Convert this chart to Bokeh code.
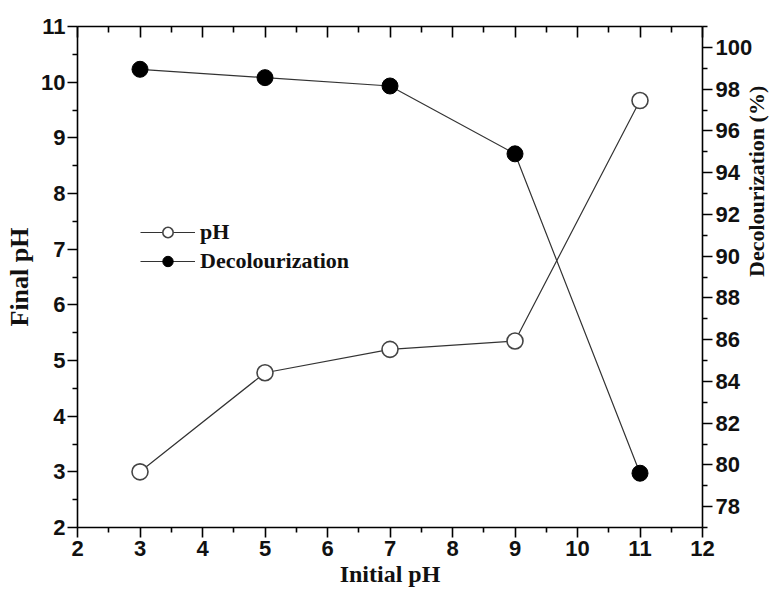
import math
from bokeh.plotting import figure
from bokeh.models import Range1d, LinearAxis, FixedTicker, Legend, LegendItem
from bokeh.embed import file_html
from bokeh.resources import INLINE

# ---- data ----
initial_ph = [3, 5, 7, 9, 11]
final_ph = [3.0, 4.78, 5.2, 5.35, 9.67]
decolourization = [98.95, 98.55, 98.15, 94.9, 79.6]

x_ticks = [2, 3, 4, 5, 6, 7, 8, 9, 10, 11, 12]
x_minor = [2.5, 3.5, 4.5, 5.5, 6.5, 7.5, 8.5, 9.5, 10.5, 11.5]
left_ticks = [2, 3, 4, 5, 6, 7, 8, 9, 10, 11]
left_minor = [2.5, 3.5, 4.5, 5.5, 6.5, 7.5, 8.5, 9.5, 10.5]
right_ticks = [78, 80, 82, 84, 86, 88, 90, 92, 94, 96, 98, 100]
right_minor = [77, 79, 81, 83, 85, 87, 89, 91, 93, 95, 97, 99, 101]

x_label = "Initial pH"
left_label = "Final pH"
right_label = "Decolourization (%)"
series_names = ["pH", "Decolourization"]

TICK_FONT = "Liberation Sans"
LABEL_FONT = "Liberation Serif"

p = figure(width=784, height=595, x_range=Range1d(2, 12), y_range=Range1d(2, 11),
           output_backend="svg", toolbar_location=None,
           min_border_left=77, min_border_right=79, min_border_top=26, min_border_bottom=68)
p.extra_y_ranges = {"dec": Range1d(77, 101)}
p.grid.visible = False
p.outline_line_color = None
p.background_fill_color = "white"
p.border_fill_color = "white"


def style_axis(ax, out_major=10, out_minor=5, in_major=0, in_minor=0):
    ax.axis_line_color = "black"
    ax.axis_line_width = 1.6
    ax.major_tick_line_color = "black"
    ax.major_tick_line_width = 1.6
    ax.minor_tick_line_color = "black"
    ax.minor_tick_line_width = 1.6
    ax.major_tick_out = out_major
    ax.major_tick_in = in_major
    ax.minor_tick_out = out_minor
    ax.minor_tick_in = in_minor
    ax.major_label_text_font = TICK_FONT
    ax.major_label_text_font_style = "bold"
    ax.major_label_text_font_size = "22px"
    ax.major_label_text_color = "#111111"
    ax.axis_label_text_font = LABEL_FONT
    ax.axis_label_text_font_style = "bold"
    ax.axis_label_text_color = "#111111"


xa = p.xaxis[0]
xa.ticker = FixedTicker(ticks=x_ticks, minor_ticks=x_minor)
style_axis(xa)
xa.major_label_standoff = 3
xa.axis_label = x_label
xa.axis_label_text_font_size = "24px"
xa.axis_label_standoff = 2

ya = p.yaxis[0]
ya.ticker = FixedTicker(ticks=left_ticks, minor_ticks=left_minor)
style_axis(ya)
ya.major_label_standoff = 2
ya.axis_label = left_label
ya.axis_label_text_font_size = "26px"
ya.axis_label_standoff = 4

ra = LinearAxis(y_range_name="dec", ticker=FixedTicker(ticks=right_ticks, minor_ticks=right_minor))
style_axis(ra)
ra.major_label_standoff = 3
ra.axis_label = right_label
ra.axis_label_text_font_size = "22px"
ra.axis_label_standoff = 1
if "axis_label_orientation" in ra.properties():
    ra.axis_label_orientation = math.pi / 2
p.add_layout(ra, "right")

ta = LinearAxis(ticker=FixedTicker(ticks=x_ticks, minor_ticks=x_minor))
style_axis(ta, out_major=0, out_minor=0, in_major=11, in_minor=6)
ta.major_label_text_font_size = "1px"
ta.major_label_text_color = None
ta.major_label_standoff = 0
p.add_layout(ta, "above")

# series: Final pH (open circles, left axis)
l1 = p.line(initial_ph, final_ph, line_color="#333333", line_width=1.2)
s1 = p.scatter(initial_ph, final_ph, marker="circle", size=16, fill_color="white",
               line_color="#444444", line_width=1.6)
# series: Decolourization (filled circles, right axis)
l2 = p.line(initial_ph, decolourization, line_color="#333333", line_width=1.2, y_range_name="dec")
s2 = p.scatter(initial_ph, decolourization, marker="circle", size=16, fill_color="black",
               line_color="black", line_width=1, y_range_name="dec")

legend = Legend(items=[LegendItem(label=series_names[0], renderers=[l1, s1]),
                       LegendItem(label=series_names[1], renderers=[l2, s2])],
                location=(63, 253), glyph_width=55, glyph_height=26, label_height=26,
                spacing=3, padding=0, margin=0, label_standoff=5,
                border_line_color=None, background_fill_alpha=0,
                label_text_font=LABEL_FONT, label_text_font_style="bold",
                label_text_font_size="22px", label_text_color="#111111")
p.add_layout(legend)

open("out.html", "w").write(file_html(p, INLINE))
